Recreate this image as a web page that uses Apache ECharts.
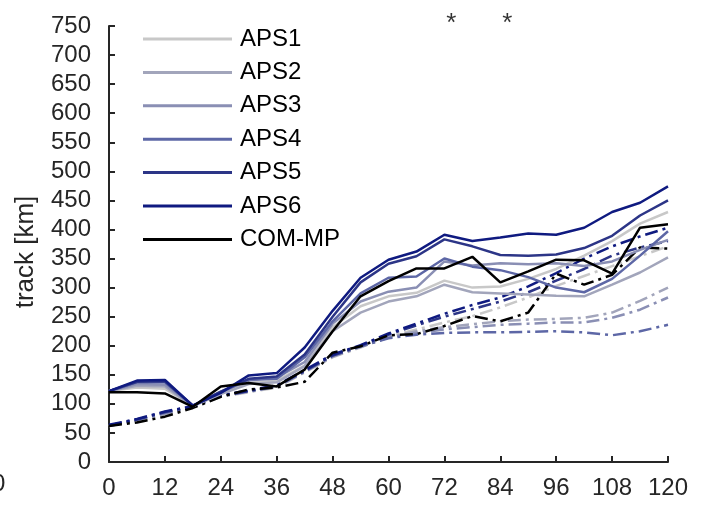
<!DOCTYPE html>
<html>
<head>
<meta charset="utf-8">
<script src="https://cdn.jsdelivr.net/npm/echarts@6/dist/echarts.min.js"></script>
<style>
  html, body { margin: 0; padding: 0; background: #fff; }
  #chart { width: 701px; height: 506px; }
</style>
</head>
<body>
<div id="chart"></div>
<script>
// Time axis (hours) and tick labels
const hours = [0, 6, 12, 18, 24, 30, 36, 42, 48, 54, 60, 66, 72, 78, 84, 90, 96, 102, 108, 114, 120];
const xTicks = [0, 12, 24, 36, 48, 60, 72, 84, 96, 108, 120];
const yTicks = [0, 50, 100, 150, 200, 250, 300, 350, 400, 450, 500, 550, 600, 650, 700, 750];

const names = ['APS1', 'APS2', 'APS3', 'APS4', 'APS5', 'APS6', 'COM-MP'];

// Track length [km], solid lines
const aps1 = [122, 128, 126, 96, 118, 136, 140, 166, 232, 268, 285, 291, 312, 300, 302, 315, 332, 355, 380, 410, 430];
const aps2 = [122, 131, 130, 96, 117, 134, 137, 165, 225, 257, 276, 285, 305, 292, 290, 288, 286, 285, 305, 326, 352];
const aps3 = [122, 134, 133, 97, 121, 140, 145, 172, 238, 276, 293, 300, 345, 338, 342, 340, 342, 337, 345, 365, 382];
const aps4 = [122, 137, 137, 97, 120, 142, 143, 180, 242, 290, 317, 319, 350, 336, 330, 318, 300, 292, 315, 355, 397];
const aps5 = [122, 138, 139, 97, 121, 143, 147, 185, 250, 309, 341, 354, 383, 371, 356, 355, 357, 368, 389, 424, 450];
const aps6 = [122, 140, 141, 97, 119, 149, 153, 197, 260, 317, 348, 362, 391, 380, 386, 393, 391, 403, 430, 446, 474];
const comMp = [120, 120, 118, 95, 130, 136, 130, 159, 225, 285, 311, 333, 333, 353, 309, 328, 348, 347, 324, 403, 409];

// Track length [km], dash-dot lines
const aps1Alt = [62, 71, 82, 94, 112, 120, 128, 154, 180, 197, 216, 228, 240, 251, 266, 283, 303, 320, 337, 354, 371];
const aps2Alt = [62, 72, 83, 94, 113, 121, 129, 155, 181, 198, 215, 225, 232, 237, 242, 245, 246, 248, 257, 277, 300];
const aps3Alt = [62, 72, 84, 95, 113, 121, 130, 155, 182, 198, 214, 222, 228, 232, 236, 238, 240, 240, 248, 262, 283];
const aps4Alt = [63, 73, 85, 95, 114, 122, 130, 156, 183, 199, 213, 219, 222, 223, 223, 224, 225, 223, 218, 225, 236];
const aps5Alt = [63, 73, 86, 96, 114, 122, 131, 157, 183, 200, 219, 235, 250, 263, 276, 292, 312, 332, 355, 369, 380];
const aps6Alt = [64, 74, 87, 96, 115, 123, 132, 158, 185, 201, 221, 238, 255, 270, 283, 302, 325, 350, 371, 388, 403];
const comMpAlt = [62, 68, 78, 93, 112, 125, 128, 138, 188, 199, 218, 220, 234, 251, 242, 257, 324, 305, 322, 369, 367];

// Significance markers (hour)
const starHours = [72, 84];
const starLevel = 754;

const colors = ['#c8c8c8', '#a2a5bb', '#8a8fb4', '#5d67a6', '#2c3587', '#0f1a80', '#000000'];
const solid = [aps1, aps2, aps3, aps4, aps5, aps6, comMp];
const dashed = [aps1Alt, aps2Alt, aps3Alt, aps4Alt, aps5Alt, aps6Alt, comMpAlt];

const pairs = vals => hours.map((h, i) => [h, vals[i]]);
const FONT = '"Liberation Sans", Arial, Helvetica, sans-serif';
const AXIS = '#262626';

const series = [];
dashed.forEach((vals, i) => {
  series.push({
    name: names[i] + ' dash-dot',
    type: 'line',
    data: pairs(vals),
    symbol: 'none',
    silent: true,
    lineStyle: { color: colors[i], width: 2.5, type: [13, 5, 3, 5] },
    z: 2
  });
});
solid.forEach((vals, i) => {
  series.push({
    name: names[i],
    type: 'line',
    data: pairs(vals),
    symbol: 'none',
    lineStyle: { color: colors[i], width: 2.5 },
    itemStyle: { color: colors[i] },
    z: 3
  });
});
series.push({
  type: 'scatter',
  data: starHours.map(h => [h, starLevel]),
  symbolSize: 0,
  clip: false,
  silent: true,
  label: {
    show: true,
    formatter: '*',
    position: 'inside',
    offset: [7, 0],
    color: '#000',
    fontSize: 26,
    fontFamily: FONT
  }
});

const chart = echarts.init(document.getElementById('chart'), null, { renderer: 'canvas' });
chart.setOption({
  animation: false,
  backgroundColor: '#fff',
  grid: { left: 109, right: 33, top: 26, bottom: 44 },
  legend: {
    data: names.map(n => ({ name: n, icon: 'rect' })),
    orient: 'vertical',
    left: 143,
    top: 27,
    padding: 0,
    itemWidth: 89,
    itemHeight: 3,
    itemGap: 9.4,
    textStyle: { fontSize: 24, fontFamily: FONT, color: '#000', lineHeight: 24, padding: [0, 0, 0, 3] }
  },
  xAxis: {
    type: 'value',
    min: xTicks[0],
    max: xTicks[xTicks.length - 1],
    interval: xTicks[1] - xTicks[0],
    axisLine: { lineStyle: { color: AXIS, width: 2 } },
    axisTick: { inside: true, length: 6, lineStyle: { color: AXIS, width: 2 } },
    axisLabel: { fontSize: 24, fontFamily: FONT, color: AXIS, margin: 14 },
    splitLine: { show: false }
  },
  yAxis: {
    type: 'value',
    min: yTicks[0],
    max: yTicks[yTicks.length - 1],
    interval: yTicks[1] - yTicks[0],
    name: 'track [km]',
    nameLocation: 'middle',
    nameGap: 70,
    nameTextStyle: { fontSize: 26, fontFamily: FONT, color: AXIS, padding: [0, 16, 0, 0] },
    axisLine: { show: true, lineStyle: { color: AXIS, width: 2 } },
    axisTick: { show: true, inside: true, length: 6, lineStyle: { color: AXIS, width: 2 } },
    axisLabel: { fontSize: 24, fontFamily: FONT, color: AXIS, margin: 18 },
    splitLine: { show: false }
  },
  graphic: [{
    type: 'text',
    left: -8,
    top: 472,
    style: { text: '0', fontSize: 24, fontFamily: FONT, fill: AXIS }
  }],
  series: series
});
</script>
</body>
</html>
